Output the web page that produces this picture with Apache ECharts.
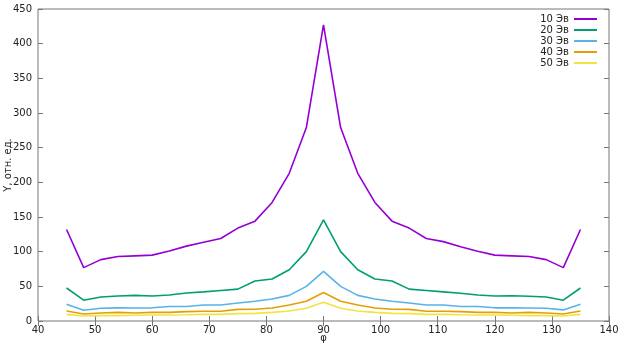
<!DOCTYPE html>
<html>
<head>
<meta charset="utf-8">
<script src="https://cdn.jsdelivr.net/npm/echarts@6/dist/echarts.min.js"></script>
<style>
html, body { margin: 0; padding: 0; background: #fff; }
#chart { width: 624px; height: 351px; }
</style>
</head>
<body>
<div id="chart"></div>
<script>
var angles = [45, 48, 51, 54, 57, 60, 63, 66, 69, 72, 75, 78, 81, 84, 87, 90,
	93, 96, 99, 102, 105, 108, 111, 114, 117, 120, 123, 126, 129, 132, 135];

var y10 = [132, 77, 88.5, 93, 94, 95, 101, 108, 113.5, 119, 134, 144, 171, 213, 279, 427,
	279, 213, 171, 144, 134, 119, 114.5, 107, 100.5, 95, 94, 93, 88.5, 77, 132];
var y20 = [47.6, 30, 34.6, 36, 37, 36, 37.5, 40.4, 42, 44, 46, 57.7, 60.6, 74, 100, 146,
	100, 74, 60.6, 57.7, 46, 44, 42, 40, 37.5, 36, 36.5, 35.6, 34.6, 30, 47.6];
var y30 = [24, 15.4, 18.3, 19, 18.8, 19, 21, 21, 23, 23, 26, 28.4, 31.8, 37, 50, 71.7,
	50, 37, 31.8, 28.4, 26, 23, 23, 21, 21, 19, 19, 18.8, 18.3, 16, 24];
var y40 = [14.4, 10, 11.5, 12.5, 11.5, 12.5, 12.5, 13.5, 14, 14, 16.8, 17, 18.8, 23, 28.4, 41,
	28.4, 23, 18.8, 17, 16.8, 14, 14, 13.5, 12.5, 12.5, 11.5, 12.5, 11.5, 10, 14.4];
var y50 = [9.6, 7.2, 7.7, 7.7, 8.2, 8.7, 8.7, 9.1, 9.6, 9.6, 10.6, 11, 12.5, 14.4, 18.3, 27,
	18.3, 14.4, 12.5, 11, 10.6, 9.6, 9.6, 9.1, 8.7, 8.7, 8.2, 7.7, 7.7, 7.2, 9.6];

var names = ['10 Эв', '20 Эв', '30 Эв', '40 Эв', '50 Эв'];
var colors = ['#9400d3', '#009e73', '#56b4e9', '#e69f00', '#f0e442'];
var xTicks = [40, 50, 60, 70, 80, 90, 100, 110, 120, 130, 140];
var yTicks = [0, 50, 100, 150, 200, 250, 300, 350, 400, 450];

(function()
{
	var font = 'DejaVu Sans';
	var allY = [y10, y20, y30, y40, y50];
	var series = [];
	for (var i = 0; i < allY.length; i++)
	{
		series.push({
			name: names[i],
			type: 'line',
			showSymbol: false,
			symbol: 'none',
			lineStyle: { width: 1.6, color: colors[i] },
			itemStyle: { color: colors[i] },
			data: angles.map(function(a, k) { return [a, allY[i][k]]; })
		});
	}

	var tickStyle = { show: true, inside: true, length: 5, lineStyle: { color: '#777' } };

	var options =
	{
		animation: false,
		color: colors,
		textStyle: { fontFamily: font },
		grid: {
			left: 38, right: 15, top: 9, bottom: 30,
			containLabel: false, outerBoundsMode: 'none',
			show: true, borderColor: '#777', borderWidth: 1
		},
		legend: {
			data: names,
			orient: 'vertical',
			right: 22,
			top: 9,
			align: 'right',
			itemWidth: 23,
			itemHeight: 2,
			itemGap: 1,
			icon: 'rect',
			textStyle: { fontFamily: font, fontSize: 10, color: '#222', padding: [0, 0, 0, 0] }
		},
		xAxis: [{
			type: 'value',
			min: xTicks[0],
			max: xTicks[xTicks.length - 1],
			interval: 10,
			name: 'φ',
			nameLocation: 'middle',
			nameGap: 12,
			nameMoveOverlap: false,
			nameTextStyle: { fontFamily: font, fontSize: 10, color: '#222' },
			axisLine: { show: false },
			axisTick: tickStyle,
			axisLabel: { fontFamily: font, fontSize: 10, color: '#222', margin: 4 },
			splitLine: { show: false }
		}, {
			type: 'value',
			position: 'top',
			min: xTicks[0],
			max: xTicks[xTicks.length - 1],
			interval: 10,
			axisLine: { show: false },
			axisTick: tickStyle,
			axisLabel: { show: false },
			splitLine: { show: false }
		}],
		yAxis: [{
			type: 'value',
			min: yTicks[0],
			max: yTicks[yTicks.length - 1],
			interval: 50,
			name: 'Y, отн. ед.',
			nameLocation: 'middle',
			nameGap: 25,
			nameMoveOverlap: false,
			nameTextStyle: { fontFamily: font, fontSize: 10, color: '#222' },
			axisLine: { show: false },
			axisTick: tickStyle,
			axisLabel: { fontFamily: font, fontSize: 10, color: '#222', margin: 6 },
			splitLine: { show: false }
		}, {
			type: 'value',
			position: 'right',
			min: yTicks[0],
			max: yTicks[yTicks.length - 1],
			interval: 50,
			axisLine: { show: false },
			axisTick: tickStyle,
			axisLabel: { show: false },
			splitLine: { show: false }
		}],
		series: series
	};

	var chart = echarts.init(document.getElementById('chart'));
	chart.setOption(options);
})();
</script>
</body>
</html>
